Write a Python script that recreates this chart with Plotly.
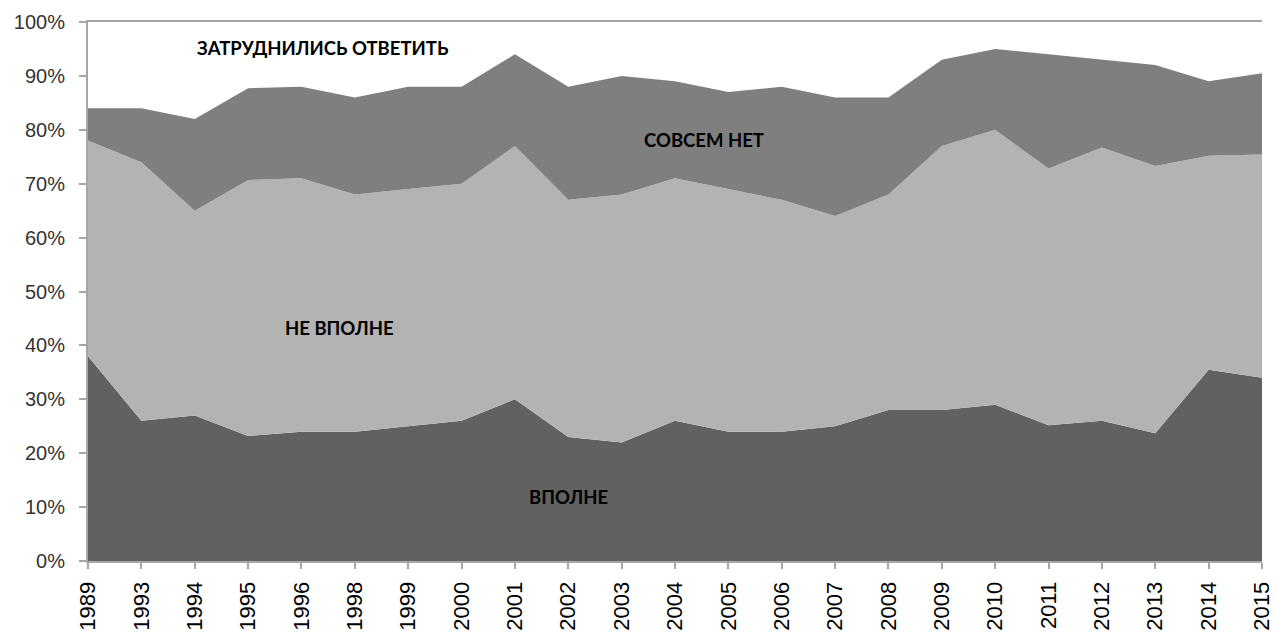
import plotly.graph_objects as go

# Survey years and shares of answers (percent of respondents)
years = ["1989", "1993", "1994", "1995", "1996", "1998", "1999", "2000", "2001",
         "2002", "2003", "2004", "2005", "2006", "2007", "2008", "2009", "2010",
         "2011", "2012", "2013", "2014", "2015"]
vpolne = [38, 26, 27, 23.2, 24, 24, 25, 26, 30, 23, 22, 26, 24, 24, 25, 28, 28, 29,
          25.2, 26, 23.7, 35.5, 34]
ne_vpolne = [40, 48, 38, 47.5, 47, 44, 44, 44, 47, 44, 46, 45, 45, 43, 39, 40, 49, 51,
             47.6, 50.7, 49.6, 39.7, 41.4]
sovsem_net = [6, 10, 17, 17, 17, 18, 19, 18, 17, 21, 22, 18, 18, 21, 22, 18, 16, 15,
              21.2, 16.3, 18.7, 13.8, 15.1]

series = [
    ("ВПОЛНЕ", vpolne, "#616161"),
    ("НЕ ВПОЛНЕ", ne_vpolne, "#b3b3b3"),
    ("СОВСЕМ НЕТ", sovsem_net, "#7f7f7f"),
]

fig = go.Figure()
for name, vals, color in series:
    fig.add_trace(go.Scatter(
        x=years, y=vals, name=name, mode="lines",
        stackgroup="one", line=dict(width=0, color=color),
        fillcolor=color, hoverinfo="x+y+name",
    ))

label_font = dict(family="Lato, 'Open Sans', sans-serif", size=18.5, color="#000000")
labels = [
    ("ЗАТРУДНИЛИСЬ ОТВЕТИТЬ", 4.41, 95.2),
    ("СОВСЕМ НЕТ", 11.55, 78.1),
    ("НЕ ВПОЛНЕ", 4.71, 43.3),
    ("ВПОЛНЕ", 9.0, 11.9),
]
for text, x, y in labels:
    fig.add_annotation(x=x, y=y, xref="x", yref="y", text="<b>%s</b>" % text,
                       showarrow=False, font=label_font)

axis_color = "#a6a6a6"
fig.update_layout(
    width=1275, height=636,
    margin=dict(l=88, r=13, t=22, b=75),
    paper_bgcolor="white", plot_bgcolor="white",
    showlegend=False,
    xaxis=dict(
        type="category", range=[0, len(years) - 1], automargin=False,
        showgrid=False, zeroline=False,
        showline=True, linecolor=axis_color, linewidth=2, mirror=True,
        ticks="outside", ticklen=6, tickcolor=axis_color, tickwidth=1.5,
        tickangle=-90, ticklabelstandoff=4,
        tickfont=dict(family="Liberation Sans, Arial, sans-serif", size=22, color="#000000"),
    ),
    yaxis=dict(
        range=[0, 100], tickvals=list(range(0, 101, 10)), automargin=False,
        ticktext=["%d%%" % v for v in range(0, 101, 10)],
        showgrid=False, zeroline=False,
        showline=True, linecolor=axis_color, linewidth=2,
        ticks="outside", ticklen=7, tickcolor=axis_color, tickwidth=1.5,
        ticklabelstandoff=10,
        tickfont=dict(family="Liberation Sans, Arial, sans-serif", size=20, color="#333333"),
    ),
)

fig.write_html("out.html")
